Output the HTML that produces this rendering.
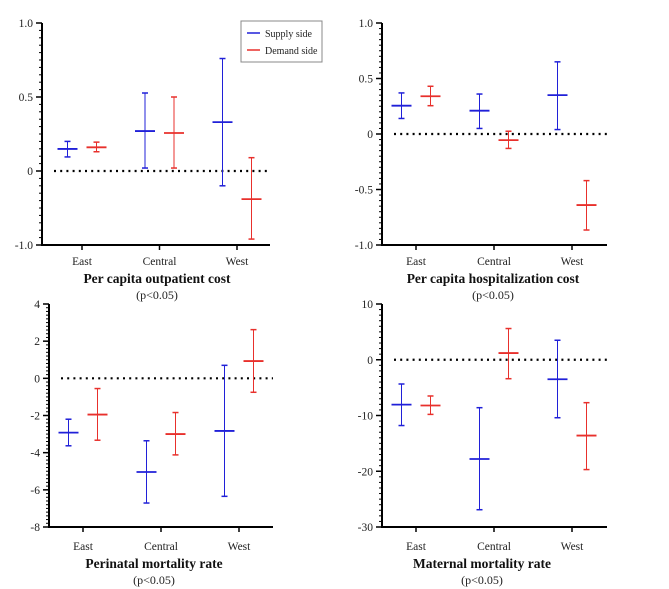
<!DOCTYPE html>
<html><head><meta charset="utf-8"><style>
html,body{margin:0;padding:0;background:#fff;}
svg{display:block;font-family:"Liberation Serif",serif;}
</style></head><body>
<svg id="chart" width="669" height="589" viewBox="0 0 669 589"></svg>
<script>
const categories = ["East","Central","West"];
// Panel 1: Per capita outpatient cost
const p1SupplyMean = [0.149, 0.27, 0.33];
const p1SupplyHigh = [0.20, 0.527, 0.76];
const p1SupplyLow = [0.095, 0.02, -0.10];
const p1DemandMean = [0.16, 0.257, -0.19];
const p1DemandHigh = [0.195, 0.50, 0.09];
const p1DemandLow = [0.13, 0.02, -0.46];
const p1TickValues = [-0.5, 0, 0.5, 1.0];
const p1TickLabels = ["-1.0", "0", "0.5", "1.0"];
// Panel 2: Per capita hospitalization cost
const p2SupplyMean = [0.255, 0.21, 0.35];
const p2SupplyHigh = [0.37, 0.36, 0.65];
const p2SupplyLow = [0.14, 0.05, 0.04];
const p2DemandMean = [0.34, -0.055, -0.64];
const p2DemandHigh = [0.43, 0.025, -0.42];
const p2DemandLow = [0.255, -0.13, -0.865];
const p2TickValues = [-1.0, -0.5, 0, 0.5, 1.0];
const p2TickLabels = ["-1.0", "-0.5", "0", "0.5", "1.0"];
// Panel 3: Perinatal mortality rate
const p3SupplyMean = [-2.92, -5.04, -2.83];
const p3SupplyHigh = [-2.2, -3.36, 0.7];
const p3SupplyLow = [-3.63, -6.71, -6.35];
const p3DemandMean = [-1.95, -3.0, 0.93];
const p3DemandHigh = [-0.55, -1.84, 2.62];
const p3DemandLow = [-3.33, -4.12, -0.75];
const p3TickValues = [-8, -6, -4, -2, 0, 2, 4];
const p3TickLabels = ["-8", "-6", "-4", "-2", "0", "2", "4"];
// Panel 4: Maternal mortality rate
const p4SupplyMean = [-8.05, -17.8, -3.5];
const p4SupplyHigh = [-4.35, -8.6, 3.5];
const p4SupplyLow = [-11.8, -26.9, -10.4];
const p4DemandMean = [-8.2, 1.2, -13.6];
const p4DemandHigh = [-6.5, 5.6, -7.7];
const p4DemandLow = [-9.8, -3.4, -19.7];
const p4TickValues = [-30, -20, -10, 0, 10];
const p4TickLabels = ["-30", "-20", "-10", "0", "10"];

const NS = "http://www.w3.org/2000/svg";
const svg = document.getElementById("chart");
const BLUE = "#2020d8", RED = "#e8302c";
function mk(tag, attrs, parent){
  const e = document.createElementNS(NS, tag);
  for (const k in attrs) e.setAttribute(k, attrs[k]);
  (parent || svg).appendChild(e);
  return e;
}
const panels = [
  {name:"outpatient", axX:42, yTop:23, yBot:245, xEnd:270, vMin:-0.5, vMax:1.0, x0:82, step:77.5, minor:30,
   title:"Per capita outpatient cost", ty:283, tcx:157, lblY:265,
   sm:p1SupplyMean, sh:p1SupplyHigh, sl:p1SupplyLow, dm:p1DemandMean, dh:p1DemandHigh, dl:p1DemandLow, tv:p1TickValues, tl:p1TickLabels},
  {name:"hospitalization", axX:382, yTop:23, yBot:245, xEnd:607, vMin:-1.0, vMax:1.0, x0:416, step:78, minor:40,
   title:"Per capita hospitalization cost", ty:283, tcx:493, lblY:265,
   sm:p2SupplyMean, sh:p2SupplyHigh, sl:p2SupplyLow, dm:p2DemandMean, dh:p2DemandHigh, dl:p2DemandLow, tv:p2TickValues, tl:p2TickLabels},
  {name:"perinatal", axX:49, yTop:304, yBot:527, xEnd:273, vMin:-8, vMax:4, x0:83, step:78, minor:60,
   title:"Perinatal mortality rate", ty:568, tcx:154, lblY:550,
   sm:p3SupplyMean, sh:p3SupplyHigh, sl:p3SupplyLow, dm:p3DemandMean, dh:p3DemandHigh, dl:p3DemandLow, tv:p3TickValues, tl:p3TickLabels},
  {name:"maternal", axX:382, yTop:304, yBot:527, xEnd:607, vMin:-30, vMax:10, x0:416, step:78, minor:40,
   title:"Maternal mortality rate", ty:568, tcx:482, lblY:550,
   sm:p4SupplyMean, sh:p4SupplyHigh, sl:p4SupplyLow, dm:p4DemandMean, dh:p4DemandHigh, dl:p4DemandLow, tv:p4TickValues, tl:p4TickLabels}
];
panels.forEach(p => {
  const g = mk("g", {});
  
  
  const y = v => p.yBot - (v - p.vMin) / (p.vMax - p.vMin) * (p.yBot - p.yTop);
  const x = i => p.x0 + i * p.step;
  const ya = mk("line", {x1:p.axX, y1:p.yTop, x2:p.axX, y2:p.yBot+1, stroke:"#000", "stroke-width":2}, g);
  
  
  const xa = mk("line", {x1:p.axX-1, y1:p.yBot, x2:p.xEnd, y2:p.yBot, stroke:"#000", "stroke-width":2}, g);
  
  
  for (let k = 0; k <= p.minor; k++) {
    const yy = p.yTop + k * (p.yBot - p.yTop) / p.minor;
    mk("line", {x1:p.axX-3, y1:yy, x2:p.axX, y2:yy, stroke:"#000", "stroke-width":1}, g);
  }
  p.tv.forEach((v, i) => {
    mk("line", {x1:p.axX-6, y1:y(v), x2:p.axX, y2:y(v), stroke:"#000", "stroke-width":1.5}, g);
    const t = mk("text", {x:p.axX-9, y:y(v)+4, "text-anchor":"end", "font-size":11.5, fill:"#222"}, g);
    t.textContent = p.tl[i];
    
    
  });
  categories.forEach((c, i) => {
    mk("line", {x1:x(i), y1:p.yBot, x2:x(i), y2:p.yBot+5, stroke:"#000", "stroke-width":1.5}, g);
    const t = mk("text", {x:x(i), y:p.lblY, "text-anchor":"middle", "font-size":11.5, fill:"#222"}, g);
    t.textContent = c;
    
    
  });
  const zl = mk("line", {x1:p.axX+12, y1:y(0), x2:p.xEnd, y2:y(0), stroke:"#000", "stroke-width":2.2, "stroke-dasharray":"2 4.2"}, g);
  
  
  const series = [
    {key:"supply", col:BLUE, off:-14.5, m:p.sm, h:p.sh, l:p.sl},
    {key:"demand", col:RED, off:14.5, m:p.dm, h:p.dh, l:p.dl}
  ];
  series.forEach(s => {
    categories.forEach((c, i) => {
      const cx = x(i) + s.off;
      const eg = mk("g", {}, g);
      
      
      mk("line", {x1:cx, y1:y(s.h[i]), x2:cx, y2:y(s.l[i]), stroke:s.col, "stroke-width":1}, eg);
      mk("line", {x1:cx-3, y1:y(s.h[i]), x2:cx+3, y2:y(s.h[i]), stroke:s.col, "stroke-width":1.5}, eg);
      mk("line", {x1:cx-3, y1:y(s.l[i]), x2:cx+3, y2:y(s.l[i]), stroke:s.col, "stroke-width":1.5}, eg);
      mk("line", {x1:cx-10, y1:y(s.m[i]), x2:cx+10, y2:y(s.m[i]), stroke:s.col, "stroke-width":1.8}, eg);
    });
  });
  const tt = mk("text", {x:p.tcx, y:p.ty, "text-anchor":"middle", "font-size":13.5, "font-weight":"bold", fill:"#111"}, g);
  tt.textContent = p.title;
  
  
  const pt = mk("text", {x:p.tcx, y:p.ty+16, "text-anchor":"middle", "font-size":12, fill:"#222"}, g);
  pt.textContent = "(p<0.05)";
  
  
});
const lg = mk("g", {});


mk("rect", {x:241, y:21, width:81, height:41, fill:"#fff", stroke:"#888", "stroke-width":1}, lg);
[["Supply side", BLUE, 33], ["Demand side", RED, 50]].forEach(([label, col, yy]) => {
  const e = mk("g", {}, lg);
  
  
  mk("line", {x1:247, y1:yy, x2:260, y2:yy, stroke:col, "stroke-width":1.5}, e);
  const t = mk("text", {x:265, y:yy+4, "font-size":10, fill:"#222"}, e);
  t.textContent = label;
});
</script>
</body></html>
